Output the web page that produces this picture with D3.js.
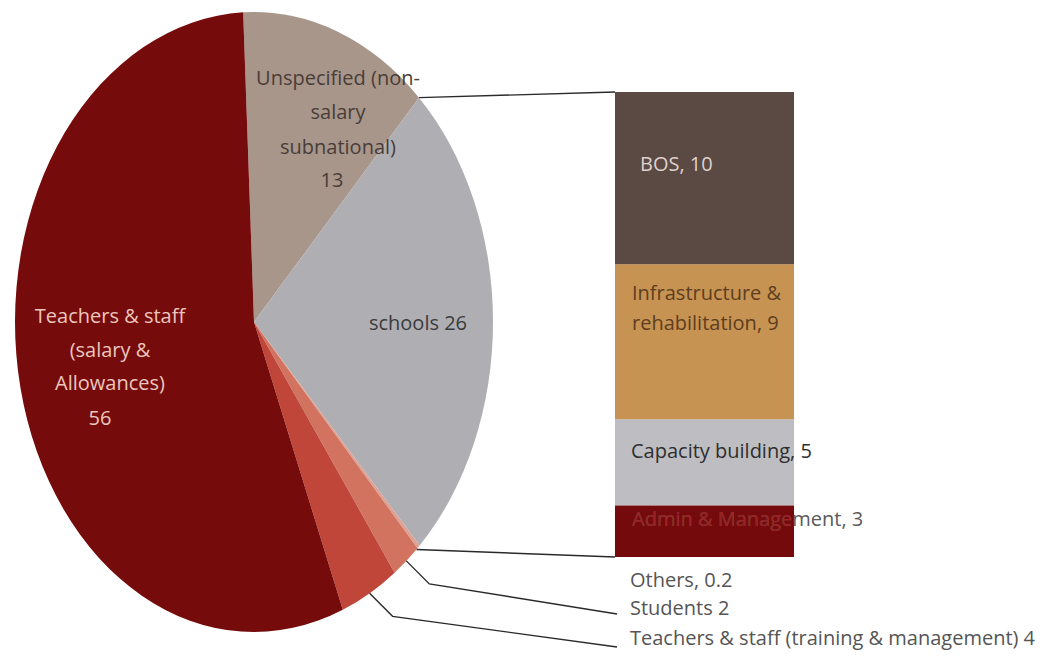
<!DOCTYPE html>
<html>
<head>
<meta charset="utf-8">
<script src="https://cdn.jsdelivr.net/npm/d3@7"></script>
<style>
  html, body { margin: 0; padding: 0; background: #ffffff; }
  svg { display: block; }
  text { font-family: "Open Sans", "Noto Sans", sans-serif; font-size: 20px; }
</style>
</head>
<body>
<svg id="chart" width="1045" height="666"></svg>
<script>
// Spending shares: main pie
const pieCategories = [
  "Unspecified (non-salary subnational)",
  "schools",
  "Others",
  "Students",
  "Teachers & staff (training & management)",
  "Teachers & staff (salary & Allowances)"
];
const pieValues = [13, 26, 0.2, 2, 4, 56];

// Breakdown of the "schools" slice
const barCategories = ["Admin & Management", "Capacity building", "Infrastructure & rehabilitation", "BOS"];
const barValues = [3, 5, 9, 10];

const pieColors = ["#a8968b", "#aeaeb3", "#dea294", "#d2735f", "#c0463a", "#760b0b"];
const barColors = ["#740a0b", "#bebec2", "#c69353", "#5b4943"];

const svg = d3.select("#chart");

// Pie geometry (drawn as a slightly tall ellipse)
const cx = 254, cy = 322, rx = 239, ry = 310;
const startDeg = -2.6;
const pie = d3.pie().sort(null).value(d => d)
  .startAngle(startDeg * Math.PI / 180)
  .endAngle((startDeg + 360) * Math.PI / 180);
const arcs = pie(pieValues);
const arc = d3.arc().innerRadius(0).outerRadius(ry);

const pieG = svg.append("g")
  .attr("transform", `translate(${cx},${cy}) scale(${rx / ry},1)`);
pieG.selectAll("path").data(arcs).join("path")
  .attr("d", arc)
  .attr("fill", (d, i) => pieColors[i]);

const edgePoint = a => [cx + rx * Math.sin(a), cy - ry * Math.cos(a)];

// Stacked bar
const barX = 615, barW = 179;
const barTotal = d3.sum(barValues);
const y = d3.scaleLinear().domain([0, barTotal]).range([557, 92]);
const cum = d3.cumsum(barValues);
const segs = barValues.map((v, i) => ({ v, i, y0: cum[i] - v, y1: cum[i] }));

svg.append("g").selectAll("rect").data(segs).join("rect")
  .attr("x", barX)
  .attr("width", barW)
  .attr("y", d => y(d.y1))
  .attr("height", d => y(d.y0) - y(d.y1))
  .attr("fill", d => barColors[d.i]);

// Connectors from the "schools" slice to the bar
const schoolsArc = arcs[1];
const pTop = edgePoint(schoolsArc.startAngle);
const pBot = edgePoint(schoolsArc.endAngle);
svg.append("line")
  .attr("x1", pTop[0]).attr("y1", pTop[1])
  .attr("x2", barX).attr("y2", y(barTotal))
  .attr("stroke", "#2a2a2a").attr("stroke-width", 1.4);
svg.append("line")
  .attr("x1", pBot[0] - 3).attr("y1", pBot[1] + 4)
  .attr("x2", barX).attr("y2", y(0))
  .attr("stroke", "#2a2a2a").attr("stroke-width", 1.4);

// Pie labels inside slices
const fmt = v => String(v);
function block(lines, x, ys, color, anchor) {
  const t = svg.append("g");
  lines.forEach((s, k) => {
    t.append("text")
      .attr("x", Array.isArray(x) ? x[k] : x)
      .attr("y", ys[k])
      .attr("dominant-baseline", "central")
      .attr("text-anchor", anchor || "middle")
      .attr("fill", color)
      .text(s);
  });
}
block(["Unspecified (non-", "salary", "subnational)", fmt(pieValues[0])],
  [338, 338, 338, 332], [77, 111, 146, 179], "#4a3d38");
block(["Teachers & staff", "(salary &", "Allowances)", fmt(pieValues[5])],
  [110, 110, 110, 100], [315, 349, 382, 417], "#ecc6bd");
block([pieCategories[1] + " " + fmt(pieValues[1])], 418, [322], "#3b3b3d");

// Bar labels
block([barCategories[3] + ", " + fmt(barValues[3])], 640, [163], "#dcd2cd", "start");
block(["Infrastructure &", "rehabilitation, " + fmt(barValues[2])], 632, [292, 322], "#5e3e1e", "start");
block([barCategories[1] + ", " + fmt(barValues[1])], 631, [450], "#2e2e30", "start");

// Admin label runs past the bar: darker red inside, grey outside
const adminText = barCategories[0] + ", " + fmt(barValues[0]);
const adminSeg = segs[0];
svg.append("clipPath").attr("id", "adminClip")
  .append("rect")
  .attr("x", barX).attr("width", barW)
  .attr("y", y(adminSeg.y1)).attr("height", y(adminSeg.y0) - y(adminSeg.y1));
svg.append("text")
  .attr("x", 632).attr("y", 518).attr("dominant-baseline", "central")
  .attr("fill", "#5a5a5a").text(adminText);
svg.append("text")
  .attr("x", 632).attr("y", 518).attr("dominant-baseline", "central")
  .attr("fill", "#9a2222").attr("clip-path", "url(#adminClip)").text(adminText);

// Small slices with callouts
block([pieCategories[2] + ", " + fmt(pieValues[2])], 630, [579], "#555555", "start");
block([pieCategories[3] + " " + fmt(pieValues[3])], 630, [607], "#555555", "start");
block([pieCategories[4] + " " + fmt(pieValues[4])], 630, [637], "#555555", "start");

const leaders = [
  { a: arcs[3], end: [617, 614] },
  { a: arcs[4], end: [617, 647] }
];
leaders.forEach(L => {
  const mid = (L.a.startAngle + L.a.endAngle) / 2;
  const p = edgePoint(mid);
  const elbow = [p[0] + 23, p[1] + 23];
  svg.append("path")
    .attr("d", d3.line()([p, elbow, L.end]))
    .attr("fill", "none")
    .attr("stroke", "#2a2a2a")
    .attr("stroke-width", 1.4);
});
</script>
</body>
</html>
